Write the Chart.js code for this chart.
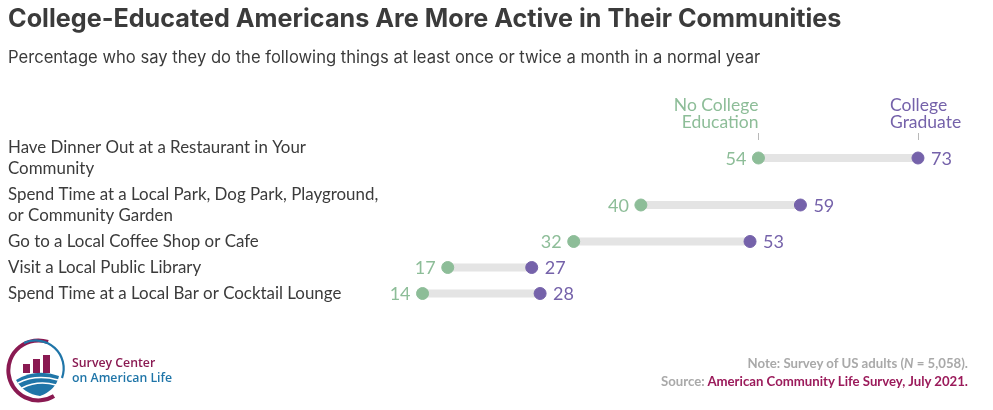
<!DOCTYPE html>
<html>
<head>
<meta charset="utf-8">
<script src="https://cdn.jsdelivr.net/npm/chart.js@4"></script>
<style>
  html, body { margin: 0; padding: 0; background: #fff; }
  #wrap { position: relative; width: 993px; height: 410px; overflow: hidden; }
  #chart { position: absolute; left: 0; top: 0; }
  .title { position: absolute; left: 8px; top: 3px; font: bold 25.2px Inter, sans-serif; color: #3b3b3b; white-space: nowrap; }
  .subtitle { position: absolute; left: 8px; top: 47px; font: 16.6px Inter, sans-serif; color: #3b3b3b; white-space: nowrap; }
  .note { position: absolute; right: 25px; top: 354px; text-align: right; font: bold 13.2px Lato, sans-serif; color: #a9a9a9; line-height: 18px; white-space: nowrap; }
  .note .src { color: #9b1b5b; }
  .logo { position: absolute; left: 4px; top: 338px; }
  .logotext { position: absolute; left: 72px; top: 355px; font: 600 12.3px "Open Sans", sans-serif; line-height: 15px; white-space: nowrap; }
  .logotext .a { color: #8a1a52; }
  .logotext .b { color: #1f75a8; }
</style>
</head>
<body>
<div id="wrap">
  <canvas id="chart" width="993" height="410"></canvas>
  <div class="title">College-Educated Americans Are More Active in Their Communities</div>
  <div class="subtitle">Percentage who say they do the following things at least once or twice a month in a normal year</div>
  <svg class="logo" width="64" height="66" viewBox="0 0 64 66">
    <path d="M44 4 A30 30 0 1 0 50 58" fill="none" stroke="#8a1a52" stroke-width="4"/>
    <path d="M20 5 A28 28 0 0 1 58 40" fill="none" stroke="#1f75a8" stroke-width="2.2"/>
    <rect x="19" y="26" width="7" height="9" fill="#8a1a52"/>
    <rect x="29" y="21" width="7" height="14" fill="#8a1a52"/>
    <rect x="39" y="17" width="7" height="18" fill="#8a1a52"/>
    <path d="M12 42 Q32 30 55 38 Q52 52 36 58 Q20 56 12 42 Z" fill="#1f75a8"/>
    <path d="M14 45 Q32 36 54 42" fill="none" stroke="#fff" stroke-width="1.5"/>
    <path d="M18 50 Q34 42 52 47" fill="none" stroke="#fff" stroke-width="1.5"/>
  </svg>
  <div class="logotext"><span class="a">Survey Center</span><br><span class="b">on American Life</span></div>
  <div class="note">Note: Survey of US adults (<i>N</i> = 5,058).<br>Source: <span class="src">American Community Life Survey, July 2021.</span></div>
</div>
<script>
const categories = [
  ['Have Dinner Out at a Restaurant in Your', 'Community'],
  ['Spend Time at a Local Park, Dog Park, Playground,', 'or Community Garden'],
  ['Go to a Local Coffee Shop or Cafe'],
  ['Visit a Local Public Library'],
  ['Spend Time at a Local Bar or Cocktail Lounge']
];
const noCollege = [54, 40, 32, 17, 14];
const collegeGrad = [73, 59, 53, 27, 28];
const seriesNames = [['No College', 'Education'], ['College', 'Graduate']];

const GREEN = '#8dbd98';
const PURPLE = '#7562aa';
const TEXT = '#3b3b3b';

// row heights follow the number of label lines
const rowHeights = categories.map(c => c.length > 1 ? 47 : 26);
const rowPos = [];
let acc = 0;
rowHeights.forEach(h => { rowPos.push(acc + h / 2); acc += h; });
const totalHeight = acc;

const connectors = categories.map((c, i) => ({
  type: 'line',
  data: [{ x: noCollege[i], y: rowPos[i] }, { x: collegeGrad[i], y: rowPos[i] }],
  borderColor: '#e4e4e4',
  borderWidth: 8,
  borderCapStyle: 'butt',
  pointRadius: 0,
  order: 3
}));

const labelPlugin = {
  id: 'dumbbellLabels',
  afterDatasetsDraw(chart) {
    const { ctx, scales: { x, y } } = chart;
    ctx.save();
    ctx.textBaseline = 'middle';
    categories.forEach((lines, i) => {
      const cy = y.getPixelForValue(rowPos[i]);
      ctx.font = '16.9px Lato, sans-serif';
      ctx.fillStyle = TEXT;
      ctx.textAlign = 'left';
      const lh = 21;
      lines.forEach((t, k) => {
        ctx.fillText(t, 8, cy + (k - (lines.length - 1) / 2) * lh);
      });
      ctx.font = '18px Lato, sans-serif';
      ctx.fillStyle = GREEN;
      ctx.textAlign = 'right';
      ctx.fillText(String(noCollege[i]), x.getPixelForValue(noCollege[i]) - 12, cy + 1);
      ctx.fillStyle = PURPLE;
      ctx.textAlign = 'left';
      ctx.fillText(String(collegeGrad[i]), x.getPixelForValue(collegeGrad[i]) + 13, cy + 1);
    });
    // column headers above the first row
    const y0 = y.getPixelForValue(rowPos[0]);
    const gx = x.getPixelForValue(noCollege[0]);
    const px = x.getPixelForValue(collegeGrad[0]);
    ctx.strokeStyle = '#b8b8b8';
    ctx.lineWidth = 1;
    [gx, px].forEach(xx => {
      ctx.beginPath();
      ctx.moveTo(Math.round(xx) + 0.5, y0 - 25);
      ctx.lineTo(Math.round(xx) + 0.5, y0 - 18);
      ctx.stroke();
    });
    ctx.font = '17.5px Lato, sans-serif';
    ctx.fillStyle = GREEN;
    ctx.textAlign = 'right';
    seriesNames[0].forEach((t, k) => ctx.fillText(t, gx, y0 - 53 + k * 17));
    ctx.fillStyle = PURPLE;
    ctx.textAlign = 'left';
    seriesNames[1].forEach((t, k) => ctx.fillText(t, px - 28, y0 - 53 + k * 17));
    ctx.restore();
  }
};

new Chart(document.getElementById('chart'), {
  type: 'scatter',
  data: {
    datasets: [
      ...connectors,
      {
        label: 'No College Education',
        data: noCollege.map((v, i) => ({ x: v, y: rowPos[i] })),
        backgroundColor: GREEN,
        borderColor: GREEN,
        pointRadius: 6,
        order: 1
      },
      {
        label: 'College Graduate',
        data: collegeGrad.map((v, i) => ({ x: v, y: rowPos[i] })),
        backgroundColor: PURPLE,
        borderColor: PURPLE,
        pointRadius: 6,
        order: 1
      }
    ]
  },
  options: {
    responsive: false,
    animation: false,
    layout: { padding: { left: 305, top: 134.5, right: 0, bottom: 103.5 } },
    plugins: {
      legend: { display: false },
      tooltip: { enabled: false }
    },
    scales: {
      x: { display: false, min: 0, max: 81.1 },
      y: { display: false, min: 0, max: totalHeight, reverse: true }
    }
  },
  plugins: [labelPlugin]
});
</script>
</body>
</html>
